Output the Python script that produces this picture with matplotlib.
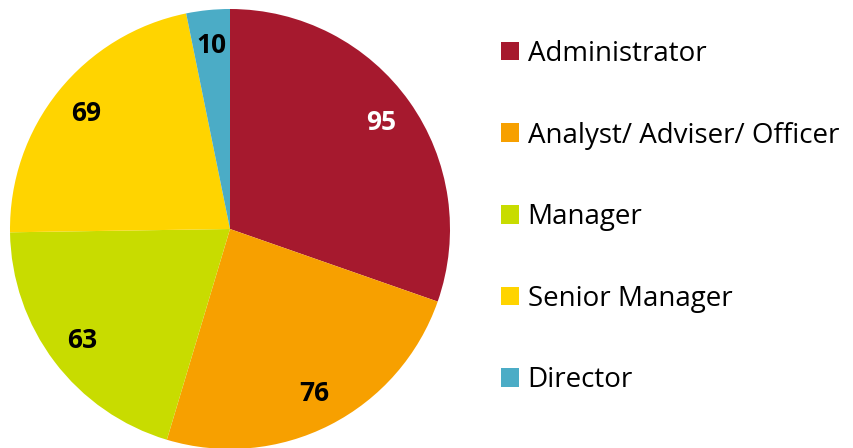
import matplotlib
matplotlib.use("Agg")
import matplotlib.pyplot as plt

categories = ["Administrator", "Analyst/ Adviser/ Officer", "Manager", "Senior Manager", "Director"]
values = [95, 76, 63, 69, 10]
colors = ["#A6192E", "#F7A000", "#C8DC00", "#FFD400", "#4BACC6"]
label_colors = ["white", "black", "black", "black", "black"]

plt.rcParams['font.family'] = ['Open Sans', 'DejaVu Sans']

fig = plt.figure(figsize=(8.54, 4.48), dpi=100)
ax = fig.add_axes([10/854, -1/448, 440/854, 440/448])
wedges, texts, autotexts = ax.pie(
    values, colors=colors, startangle=90, counterclock=False,
    radius=1, autopct=lambda p: "%d" % round(p * sum(values) / 100),
    pctdistance=0.84, wedgeprops=dict(linewidth=0),
    textprops=dict(fontsize=19, fontweight="bold"))
for t, c in zip(autotexts, label_colors):
    t.set_color(c)
ax.set_xlim(-1, 1)
ax.set_ylim(-1, 1)
ax.set_aspect("equal")

leg = fig.legend(wedges, categories, loc="upper left",
                 bbox_to_anchor=(487/854, 1 - 26/448), frameon=False,
                 fontsize=20, handlelength=0.66, handleheight=0.66,
                 handletextpad=0.3, labelspacing=1.93, borderpad=0)

fig.savefig("out.png", dpi=100)
